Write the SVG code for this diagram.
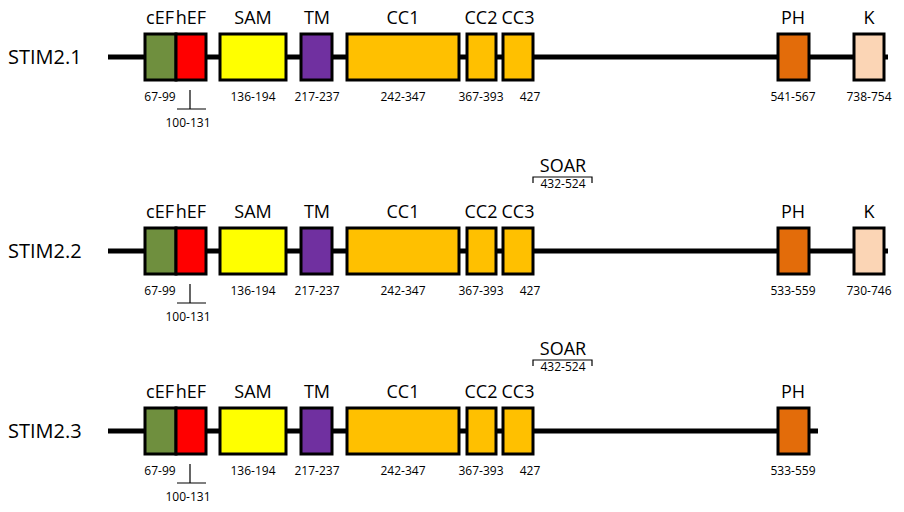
<svg xmlns="http://www.w3.org/2000/svg" width="904" height="512" viewBox="0 0 904 512">
<style>
.t{font-family:"Open Sans","Liberation Sans",sans-serif;fill:#000}
.n{font-size:18px;text-anchor:middle}
.s{font-size:12px;text-anchor:middle}
.b{stroke:#000;stroke-width:3}
.l{stroke:#000;stroke-width:5}
.k{stroke:#000;stroke-width:1.2;fill:none}
</style>
<rect width="904" height="512" fill="#fff"/>
<defs>
<g id="row">
<line class="l" x1="108" y1="23" x2="888" y2="23"/>
<rect class="b" x="145" y="0" width="31" height="46" fill="#6f8f3e"/>
<rect class="b" x="176" y="0" width="30" height="46" fill="#ff0000"/>
<rect class="b" x="220" y="0" width="66" height="46" fill="#ffff00"/>
<rect class="b" x="301" y="0" width="31" height="46" fill="#7030a0"/>
<rect class="b" x="347" y="0" width="112" height="46" fill="#ffc000"/>
<rect class="b" x="467" y="0" width="29" height="46" fill="#ffc000"/>
<rect class="b" x="503" y="0" width="30" height="46" fill="#ffc000"/>
<rect class="b" x="778" y="0" width="31" height="46" fill="#e36c0a"/>
<path class="k" d="M190 56V75M177 75H206"/>
<g class="t n"><text x="160" y="-10">cEF</text><text x="191" y="-10">hEF</text><text x="253" y="-10">SAM</text><text x="317" y="-10">TM</text><text x="403" y="-10">CC1</text><text x="481" y="-10">CC2</text><text x="518" y="-10">CC3</text><text x="793" y="-10">PH</text></g>
<g class="t s"><text x="160" y="67">67-99</text><text x="188" y="93">100-131</text><text x="253" y="67">136-194</text><text x="317" y="67">217-237</text><text x="403" y="67">242-347</text><text x="481" y="67">367-393</text><text x="530" y="67">427</text></g>
</g>
<g id="soar">
<text class="t n" x="563" y="0">SOAR</text>
<path class="k" d="M533 11V5H592V11"/>
<text class="t s" x="563" y="16">432-524</text>
</g>
</defs>
<g id="stim21" transform="translate(0,34)">
<use href="#row"/>
<rect class="b" x="854" y="0" width="30" height="46" fill="#fbd5b5"/>
<text class="t n" x="869" y="-10">K</text>
<text class="t s" x="793" y="67">541-567</text>
<text class="t s" x="869" y="67">738-754</text>
<text class="t" x="8" y="30" font-size="20">STIM2.1</text>
</g>
<g id="soar2" transform="translate(0,172)"><use href="#soar"/></g>
<g id="stim22" transform="translate(0,228)">
<use href="#row"/>
<rect class="b" x="854" y="0" width="30" height="46" fill="#fbd5b5"/>
<text class="t n" x="869" y="-10">K</text>
<text class="t s" x="793" y="67">533-559</text>
<text class="t s" x="869" y="67">730-746</text>
<text class="t" x="8" y="30" font-size="20">STIM2.2</text>
</g>
<g id="soar3" transform="translate(0,355)"><use href="#soar"/></g>
<g id="stim23" transform="translate(0,408)">
<rect x="812" y="15" width="90" height="16" fill="#fff"/>
<use href="#row"/>
<rect x="818" y="18" width="80" height="10" fill="#fff"/>
<text class="t s" x="793" y="67">533-559</text>
<text class="t" x="8" y="30" font-size="20">STIM2.3</text>
</g>
</svg>
